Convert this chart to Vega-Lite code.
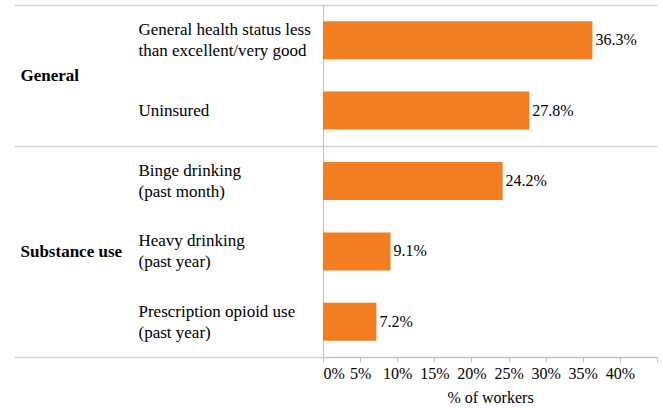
{
  "$schema": "https://vega.github.io/schema/vega-lite/v6.json",
  "width": 334,
  "height": 352,
  "autosize": "none",
  "padding": {"left": 323, "top": 5, "right": 6, "bottom": 51},
  "background": "white",
  "config": {"view": {"stroke": null}, "font": "Liberation Serif"},
  "data": {
    "values": [
      {"item": "General health status less|than excellent/very good", "group": "General", "pct": 0.363},
      {"item": "Uninsured", "group": "General", "pct": 0.278},
      {"item": "Binge drinking|(past month)", "group": "Substance use", "pct": 0.242},
      {"item": "Heavy drinking|(past year)", "group": "Substance use", "pct": 0.091},
      {"item": "Prescription opioid use|(past year)", "group": "Substance use", "pct": 0.072}
    ]
  },
  "encoding": {
    "x": {
      "field": "pct",
      "type": "quantitative",
      "scale": {"domain": [0, 0.45], "nice": false},
      "axis": {
        "values": [0, 0.05, 0.1, 0.15, 0.2, 0.25, 0.3, 0.35, 0.4, 0.45],
        "format": ".0%",
        "labelExpr": "datum.value >= 0.449 ? '' : datum.label",
        "title": "% of workers",
        "titleFont": "Liberation Serif",
        "titleFontSize": 16,
        "titleFontWeight": "normal",
        "titleColor": "#000000",
        "titlePadding": 8,
        "labelFont": "Liberation Serif",
        "labelFontSize": 16,
        "labelColor": "#000000",
        "labelPadding": 3,
        "labelFlush": true,
        "labelOverlap": false,
        "tickSize": 5,
        "tickColor": "#BFBFBF",
        "domainColor": "#BFBFBF",
        "grid": false
      }
    }
  },
  "layer": [
    {
      "mark": {"type": "bar", "color": "#F37E22"},
      "encoding": {
        "y": {
          "field": "item",
          "type": "nominal",
          "sort": null,
          "scale": {"paddingInner": 0.46, "paddingOuter": 0.23},
          "axis": {
            "orient": "left",
            "title": null,
            "domain": true,
            "domainColor": "#BFBFBF",
            "domainWidth": 1,
            "ticks": true,
            "tickOffset": -35.2,
            "tickSize": 309,
            "tickColor": "#D0D0D0",
            "tickWidth": 1.5,
            "tickOpacity": {"condition": {"test": "datum.value === 'General health status less|than excellent/very good' || datum.value === 'Binge drinking|(past month)'", "value": 1}, "value": 0},
            "grid": true,
            "gridColor": "#D0D0D0",
            "gridWidth": 1.5,
            "gridOpacity": {"condition": {"test": "datum.value === 'General health status less|than excellent/very good' || datum.value === 'Binge drinking|(past month)'", "value": 1}, "value": 0},
            "labelExpr": "split(datum.label, '|')",
            "labelAlign": "left",
            "labelBaseline": "middle",
            "labelOffset": {"condition": {"test": "indexof(datum.value, '|') >= 0", "value": 24.7}, "value": 35.2},
            "labelPadding": -124,
            "labelFont": "Liberation Serif",
            "labelFontSize": 17,
            "labelColor": "#000000",
            "labelLineHeight": 21,
            "labelLimit": 300,
            "labelOverlap": false
          }
        }
      }
    },
    {
      "mark": {"type": "text", "align": "left", "baseline": "middle", "dx": 3, "fontSize": 16, "font": "Liberation Serif", "color": "#000000"},
      "encoding": {
        "y": {
          "field": "item",
          "type": "nominal",
          "sort": null,
          "axis": {
            "orient": "left",
            "title": null,
            "domain": false,
            "ticks": true,
            "tickOffset": 35.2,
            "tickSize": 309,
            "tickColor": "#D0D0D0",
            "tickWidth": 1.5,
            "tickOpacity": {"condition": {"test": "datum.value === 'Prescription opioid use|(past year)'", "value": 1}, "value": 0},
            "grid": true,
            "gridColor": "#D0D0D0",
            "gridWidth": 1.5,
            "gridOpacity": {"condition": {"test": "datum.value === 'Prescription opioid use|(past year)'", "value": 1}, "value": 0},
            "labelExpr": "datum.value === 'Uninsured' ? 'General' : datum.value === 'Heavy drinking|(past year)' ? 'Substance use' : ''",
            "labelOffset": {"condition": {"test": "datum.value === 'Uninsured'", "value": -70.4}, "value": -35.2},
            "labelAlign": "left",
            "labelBaseline": "middle",
            "labelPadding": -6,
            "labelFont": "Liberation Serif",
            "labelFontSize": 17,
            "labelFontWeight": "bold",
            "labelColor": "#000000",
            "labelLimit": 300,
            "labelOverlap": false
          }
        },
        "text": {"field": "pct", "type": "quantitative", "format": ".1%"}
      }
    }
  ],
  "resolve": {"axis": {"y": "independent"}}
}
